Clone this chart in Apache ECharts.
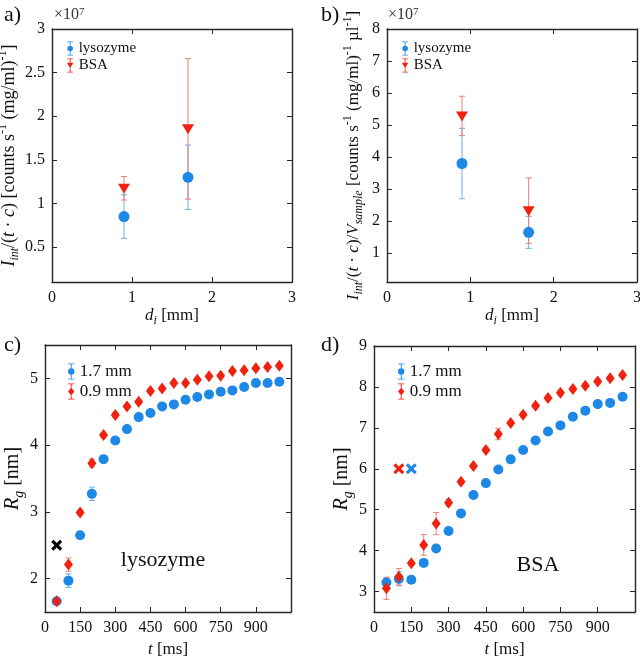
<!DOCTYPE html>
<html>
<head>
<meta charset="utf-8">
<script src="https://cdn.jsdelivr.net/npm/echarts@6.0.0/dist/echarts.min.js"></script>
<style>
  html, body { margin: 0; padding: 0; background: #fff; }
  #chart { width: 640px; height: 662px; }
</style>
</head>
<body>
<div id="chart"></div>
<script>
'use strict';

// panels a) and b): inlet diameter d_i [mm], values in units of 1e7
const dI = [0.9, 1.7];
const aLys = [0.85, 1.30];
const aLysLo = [0.60, 0.93];
const aLysHi = [1.10, 1.67];
const aBsa = [1.17, 1.85];
const aBsaLo = [1.04, 1.05];
const aBsaHi = [1.31, 2.66];

const bLys = [3.80, 1.65];
const bLysLo = [2.70, 1.15];
const bLysHi = [4.90, 2.15];
const bBsa = [5.27, 2.31];
const bBsaLo = [4.67, 1.30];
const bBsaHi = [5.90, 3.35];

// panels c) and d): time t [ms], Rg [nm]
const tMs = [50, 100, 150, 200, 250, 300, 350, 400, 450, 500,
  550, 600, 650, 700, 750, 800, 850, 900, 950, 1000];

const cWide = [1.66, 1.97, 2.65, 3.27, 3.79, 4.07, 4.24, 4.42, 4.48, 4.58,
  4.61, 4.68, 4.72, 4.76, 4.80, 4.82, 4.87, 4.93, 4.93, 4.95];
const cWideErr = [0.03, 0.10, 0.04, 0.10, 0.04, 0.03, 0.03, 0.03, 0.03, 0.02,
  0.02, 0.02, 0.02, 0.02, 0.02, 0.02, 0.02, 0.02, 0.02, 0.02];
const cNarrow = [1.66, 2.21, 2.99, 3.73, 4.15, 4.45, 4.58, 4.65, 4.81, 4.85,
  4.93, 4.93, 4.98, 5.03, 5.04, 5.11, 5.12, 5.15, 5.17, 5.19];
const cNarrowErr = [0.04, 0.10, 0.04, 0.06, 0.04, 0.04, 0.03, 0.03, 0.03, 0.03,
  0.02, 0.02, 0.02, 0.02, 0.02, 0.02, 0.02, 0.02, 0.02, 0.02];

const dWide = [3.22, 3.31, 3.29, 3.70, 4.05, 4.48, 4.91, 5.36, 5.65, 5.98,
  6.23, 6.46, 6.69, 6.91, 7.06, 7.27, 7.42, 7.58, 7.61, 7.76];
const dWideErr = [0.10, 0.17, 0.04, 0.08, 0.04, 0.08, 0.04, 0.04, 0.04, 0.04,
  0.03, 0.03, 0.03, 0.03, 0.03, 0.03, 0.03, 0.03, 0.03, 0.03];
const dNarrow = [3.08, 3.36, 3.69, 4.14, 4.66, 5.17, 5.68, 6.07, 6.46, 6.85,
  7.12, 7.32, 7.54, 7.73, 7.86, 7.95, 8.03, 8.13, 8.21, 8.29];
const dNarrowErr = [0.27, 0.20, 0.05, 0.25, 0.27, 0.08, 0.05, 0.05, 0.05, 0.14,
  0.05, 0.05, 0.05, 0.05, 0.05, 0.05, 0.05, 0.05, 0.05, 0.05];

// excluded points (crosses)
const cCross = [[50, 2.5]];
const dCrossNarrow = [[100, 6.0]];
const dCrossWide = [[150, 6.0]];

const font = 'Liberation Serif';
const ink = '#262626';
const blue = '#1e88e6';
const red = '#f0220f';
const blueBar = '#66b2ea';
const redBar = '#ec7d76';

const crossPath = 'path://M2,0L5,3L8,0L10,2L7,5L10,8L8,10L5,7L2,10L0,8L3,5L0,2Z';
const iconCircle = 'path://M4.4,0H5.6V6H4.4ZM1,0H9V1H1ZM4.4,14H5.6V20H4.4ZM1,19H9V20H1Z' +
  'M1,10A4,4 0 1 1 9,10A4,4 0 1 1 1,10Z';
const iconTri = 'path://M4.4,0H5.6V6H4.4ZM1,0H9V1H1ZM4.4,14H5.6V20H4.4ZM1,19H9V20H1Z' +
  'M0.5,6H9.5L5,14Z';
const iconDiamond = 'path://M4.4,0H5.6V5H4.4ZM1,0H9V1H1ZM4.4,15H5.6V20H4.4ZM1,19H9V20H1Z' +
  'M5,5L9,10L5,15L1,10Z';

const richText = size => ({
  n: { fontFamily: font, fontSize: size, color: '#111', lineHeight: size + 6 },
  i: { fontFamily: font, fontSize: size, fontStyle: 'italic', color: '#111', lineHeight: size + 6 },
  sub: { fontFamily: font, fontSize: Math.round(size * 0.68), fontStyle: 'italic', color: '#111',
    lineHeight: 12, verticalAlign: 'bottom' },
  sup: { fontFamily: font, fontSize: Math.round(size * 0.68), color: '#111',
    lineHeight: 12, verticalAlign: 'top' }
});

// error bar drawn through the axis scales
function errorBar(params, api) {
  const x = api.value(0);
  const lo = api.coord([x, api.value(1)]);
  const hi = api.coord([x, api.value(2)]);
  const w = 3;
  const style = { stroke: api.visual('color'), lineWidth: 1 };
  return {
    type: 'group',
    children: [
      { type: 'line', shape: { x1: lo[0], y1: lo[1], x2: hi[0], y2: hi[1] }, style },
      { type: 'line', shape: { x1: lo[0] - w, y1: lo[1], x2: lo[0] + w, y2: lo[1] }, style },
      { type: 'line', shape: { x1: hi[0] - w, y1: hi[1], x2: hi[0] + w, y2: hi[1] }, style }
    ]
  };
}

function barsFromRange(xs, lo, hi) {
  return xs.map((x, i) => [x, lo[i], hi[i]]);
}
function barsFromErr(xs, ys, err) {
  return xs.map((x, i) => [x, ys[i] - err[i], ys[i] + err[i]]);
}
function points(xs, ys) {
  return xs.map((x, i) => [x, ys[i]]);
}

function xPair(gridIndex, min, max, step, name, nameGap, showMax) {
  const base = {
    gridIndex, type: 'value', min, max, minInterval: step, maxInterval: step,
    axisLine: { onZero: false, lineStyle: { color: ink, width: 1.4 } },
    axisTick: { inside: true, length: 5, lineStyle: { color: ink } },
    splitLine: { show: false }
  };
  return [
    {
      ...base, position: 'bottom',
      name, nameLocation: 'middle', nameGap,
      nameTextStyle: { rich: richText(17) },
      axisLabel: { fontFamily: font, fontSize: 16, color: '#111', margin: 8, showMaxLabel: showMax }
    },
    { ...base, position: 'top', axisLabel: { show: false } }
  ];
}

function yPair(gridIndex, min, max, step, name, nameGap, size, showMax) {
  const base = {
    gridIndex, type: 'value', min, max, minInterval: step, maxInterval: step,
    axisLine: { onZero: false, lineStyle: { color: ink, width: 1.4 } },
    axisTick: { inside: true, length: 5, lineStyle: { color: ink } },
    splitLine: { show: false }
  };
  return [
    {
      ...base, position: 'left',
      name, nameLocation: 'middle', nameGap,
      nameTextStyle: { rich: richText(size) },
      axisLabel: { fontFamily: font, fontSize: 16, color: '#111', margin: 7,
        showMinLabel: false, showMaxLabel: showMax }
    },
    { ...base, position: 'right', axisLabel: { show: false } }
  ];
}

function errSeries(axis, data, color, name) {
  return {
    type: 'custom', name, xAxisIndex: axis, yAxisIndex: axis,
    renderItem: errorBar, itemStyle: { color }, data, z: 2,
    encode: { x: 0, y: [1, 2] }
  };
}
function markSeries(axis, data, name, symbol, size, color, rotate) {
  return {
    type: 'scatter', name, xAxisIndex: axis, yAxisIndex: axis,
    symbol, symbolSize: size, symbolRotate: rotate || 0,
    itemStyle: { color, opacity: 1 }, data, z: 3
  };
}

const diName = '{i|d}{sub|i}{n| [mm]}';
const tName = '{i|t}{n| [ms]}';
const rgName = '{i|R}{sub|g}{n| [nm]}';
const aName = '{i|I}{sub|int}{n|/(}{i|t}{n| · }{i|c}{n|) [counts s}{sup|-1}{n| (mg/ml)}{sup|-1}{n|]}';
const bName = '{i|I}{sub|int}{n|/(}{i|t}{n| · }{i|c}{n|)/}{i|V}{sub|sample}{n| [counts s}{sup|-1}' +
  '{n| (mg/ml)}{sup|-1}{n| µl}{sup|-1}{n|]}';

const legendText = size => ({ fontFamily: font, fontSize: size, color: '#111' });
const sup7 = { sup: { fontFamily: font, fontSize: 11, fill: '#333', lineHeight: 10, verticalAlign: 'top' } };

const option = {
  backgroundColor: '#fff',
  animation: false,
  grid: [
    { left: 52, top: 29, width: 240, height: 253, outerBoundsMode: 'none' },
    { left: 387, top: 29, width: 250, height: 253, outerBoundsMode: 'none' },
    { left: 45, top: 345, width: 246, height: 267, outerBoundsMode: 'none' },
    { left: 374, top: 346, width: 261, height: 266, outerBoundsMode: 'none' }
  ],
  xAxis: [
    ...xPair(0, 0, 3, 1, diName, 20, true),
    ...xPair(1, 0, 3, 1, diName, 20, true),
    ...xPair(2, 0, 1050, 150, tName, 26, false),
    ...xPair(3, 0, 1050, 150, tName, 26, false)
  ],
  yAxis: [
    ...yPair(0, 0.1, 3, 0.5, aName, 24, 18, true),
    ...yPair(1, 0.1, 8, 1, bName, 22, 17, true),
    ...yPair(2, 1.5, 5.5, 1, rgName, 16, 20, false),
    ...yPair(3, 2.5, 9, 1, rgName, 16, 20, true)
  ],
  legend: [
    {
      left: 62, top: 36, orient: 'vertical', itemWidth: 7, itemHeight: 14, itemGap: 2,
      textStyle: legendText(15),
      data: [{ name: 'lysozyme', icon: iconCircle, itemStyle: { color: blue } },
             { name: 'BSA', icon: iconTri, itemStyle: { color: red } }]
    },
    {
      left: 397, top: 36, orient: 'vertical', itemWidth: 7, itemHeight: 14, itemGap: 2,
      textStyle: legendText(15),
      data: [{ name: 'lysozyme', icon: iconCircle, itemStyle: { color: blue } },
             { name: 'BSA', icon: iconTri, itemStyle: { color: red } }]
    },
    {
      left: 63, top: 358, orient: 'vertical', itemWidth: 7, itemHeight: 16, itemGap: 3,
      textStyle: legendText(17),
      data: [{ name: '1.7 mm', icon: iconCircle, itemStyle: { color: blue } },
             { name: '0.9 mm', icon: iconDiamond, itemStyle: { color: red } }]
    },
    {
      left: 393, top: 358, orient: 'vertical', itemWidth: 7, itemHeight: 16, itemGap: 3,
      textStyle: legendText(17),
      data: [{ name: '1.7 mm', icon: iconCircle, itemStyle: { color: blue } },
             { name: '0.9 mm', icon: iconDiamond, itemStyle: { color: red } }]
    }
  ],
  series: [
    // a)
    errSeries(0, barsFromRange(dI, aLysLo, aLysHi), blueBar, 'err-a-lys'),
    errSeries(0, barsFromRange(dI, aBsaLo, aBsaHi), redBar, 'err-a-bsa'),
    markSeries(0, points(dI, aLys), 'lysozyme', 'circle', 11, blue),
    markSeries(0, points(dI, aBsa), 'BSA', 'triangle', [12, 10], red, 180),
    // b)
    errSeries(2, barsFromRange(dI, bLysLo, bLysHi), blueBar, 'err-b-lys'),
    errSeries(2, barsFromRange(dI, bBsaLo, bBsaHi), redBar, 'err-b-bsa'),
    markSeries(2, points(dI, bLys), 'lysozyme', 'circle', 11, blue),
    markSeries(2, points(dI, bBsa), 'BSA', 'triangle', [12, 10], red, 180),
    // c)
    errSeries(4, barsFromErr(tMs, cWide, cWideErr), blueBar, 'err-c-wide'),
    markSeries(4, points(tMs, cWide), '1.7 mm', 'circle', 10, blue),
    errSeries(4, barsFromErr(tMs, cNarrow, cNarrowErr), redBar, 'err-c-narrow'),
    markSeries(4, points(tMs, cNarrow), '0.9 mm', 'diamond', [9, 12], red),
    markSeries(4, cCross, 'excluded-c', crossPath, 11, '#000'),
    // d)
    errSeries(6, barsFromErr(tMs, dWide, dWideErr), blueBar, 'err-d-wide'),
    markSeries(6, points(tMs, dWide), '1.7 mm', 'circle', 10, blue),
    errSeries(6, barsFromErr(tMs, dNarrow, dNarrowErr), redBar, 'err-d-narrow'),
    markSeries(6, points(tMs, dNarrow), '0.9 mm', 'diamond', [9, 12], red),
    markSeries(6, dCrossNarrow, 'excluded-d1', crossPath, 11, red),
    markSeries(6, dCrossWide, 'excluded-d2', crossPath, 11, blue)
  ],
  graphic: [
    { type: 'text', left: 4, top: 4, style: { text: 'a)', fontFamily: font, fontSize: 22, fill: '#111' } },
    { type: 'text', left: 321, top: 4, style: { text: 'b)', fontFamily: font, fontSize: 22, fill: '#111' } },
    { type: 'text', left: 4, top: 334, style: { text: 'c)', fontFamily: font, fontSize: 22, fill: '#111' } },
    { type: 'text', left: 321, top: 334, style: { text: 'd)', fontFamily: font, fontSize: 22, fill: '#111' } },
    { type: 'text', left: 54, top: 7, style: { text: '×10{sup|7}', fontFamily: font, fontSize: 16,
      fill: '#333', rich: sup7 } },
    { type: 'text', left: 388, top: 7, style: { text: '×10{sup|7}', fontFamily: font, fontSize: 16,
      fill: '#333', rich: sup7 } },
    { type: 'text', x: 163, y: 560, style: { text: 'lysozyme', fontFamily: font, fontSize: 22, fill: '#111',
      align: 'center', verticalAlign: 'middle' } },
    { type: 'text', x: 538, y: 565, style: { text: 'BSA', fontFamily: font, fontSize: 22, fill: '#111',
      align: 'center', verticalAlign: 'middle' } }
  ]
};

const chart = echarts.init(document.getElementById('chart'), null, { renderer: 'canvas' });
chart.setOption(option);
</script>
</body>
</html>
